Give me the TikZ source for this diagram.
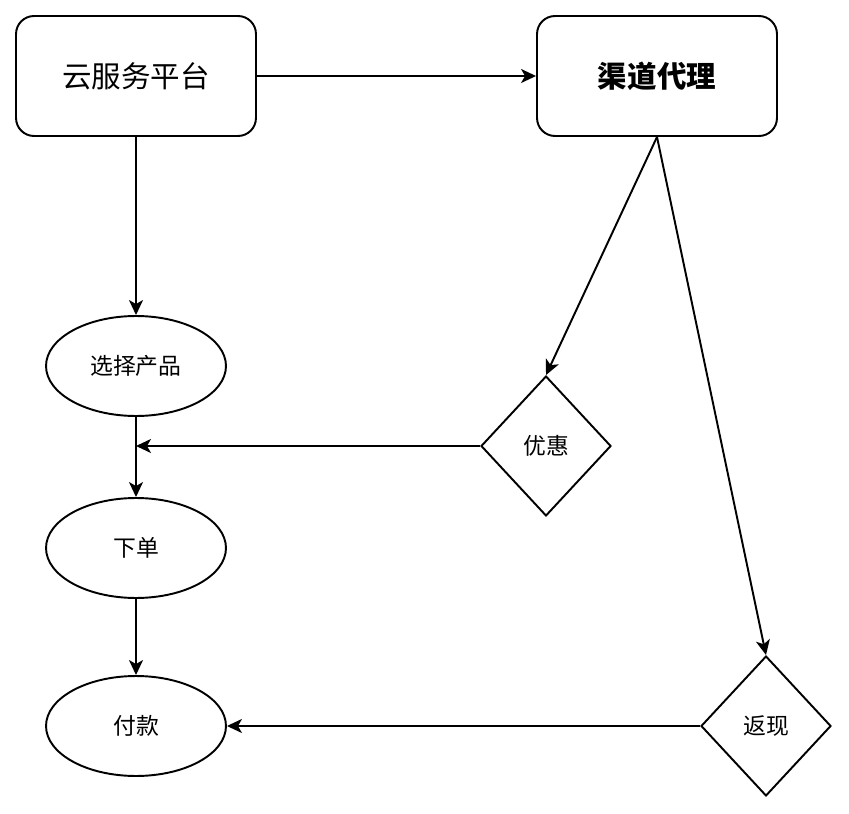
\documentclass[tikz,border=0pt]{standalone}
\usepackage{fontspec}
\setmainfont{Noto Sans CJK SC}
\usetikzlibrary{arrows.meta,shapes.geometric,positioning,calc}
\tikzset{every picture/.style={line width=1.1pt}}
\tikzset{
  box/.style={draw, rounded corners=0.36cm, minimum width=4.8cm, minimum height=2.4cm, font=\fontsize{16.8}{19}\selectfont},
  oval/.style={draw, ellipse, minimum width=3.6cm, minimum height=2cm, font=\fontsize{13}{15}\selectfont},
  choice/.style={draw, diamond, inner sep=0pt, shape aspect=0.93, minimum width=2.6cm, minimum height=2.8cm, font=\fontsize{13}{15}\selectfont},
  arr/.style={-{Stealth[length=0.3cm, width=0.28cm, inset=0.08cm]}}
}

\begin{document}
\begin{tikzpicture}[x=0.02cm, y=-0.02cm]
    \useasboundingbox (0,0) rectangle (849,814);

    % 顶部两个平台
    \node[box] (yun) at (136,76) {云服务平台};
    \node[box, font=\fontsize{16.8}{19}\selectfont\bfseries] (qd) at (657,76) {渠道代理};

    % 左侧流程
    \node[oval] (xz) at (136,366) {选择产品};
    \node[oval] (xd) at (136,548) {下单};
    \node[oval] (fk) at (136,726) {付款};

    % 判断
    \node[choice] (yh) at (546,446) {优惠};
    \node[choice] (fx) at (766,726) {返现};

    % 连线
    \draw[arr] (yun) -- (qd);
    \draw[arr] (yun) -- (xz);
    \draw[arr] (xz) -- (xd);
    \draw[arr] (xd) -- (fk);
    \draw[arr] (qd.south) -- (yh.north);
    \draw[arr] (qd.south) -- (fx.north);
    \draw[arr] (yh.west) -- (yh.west -| xz.south);
    \draw[arr] (fx.west) -- (fk.east);
\end{tikzpicture}
\end{document}
